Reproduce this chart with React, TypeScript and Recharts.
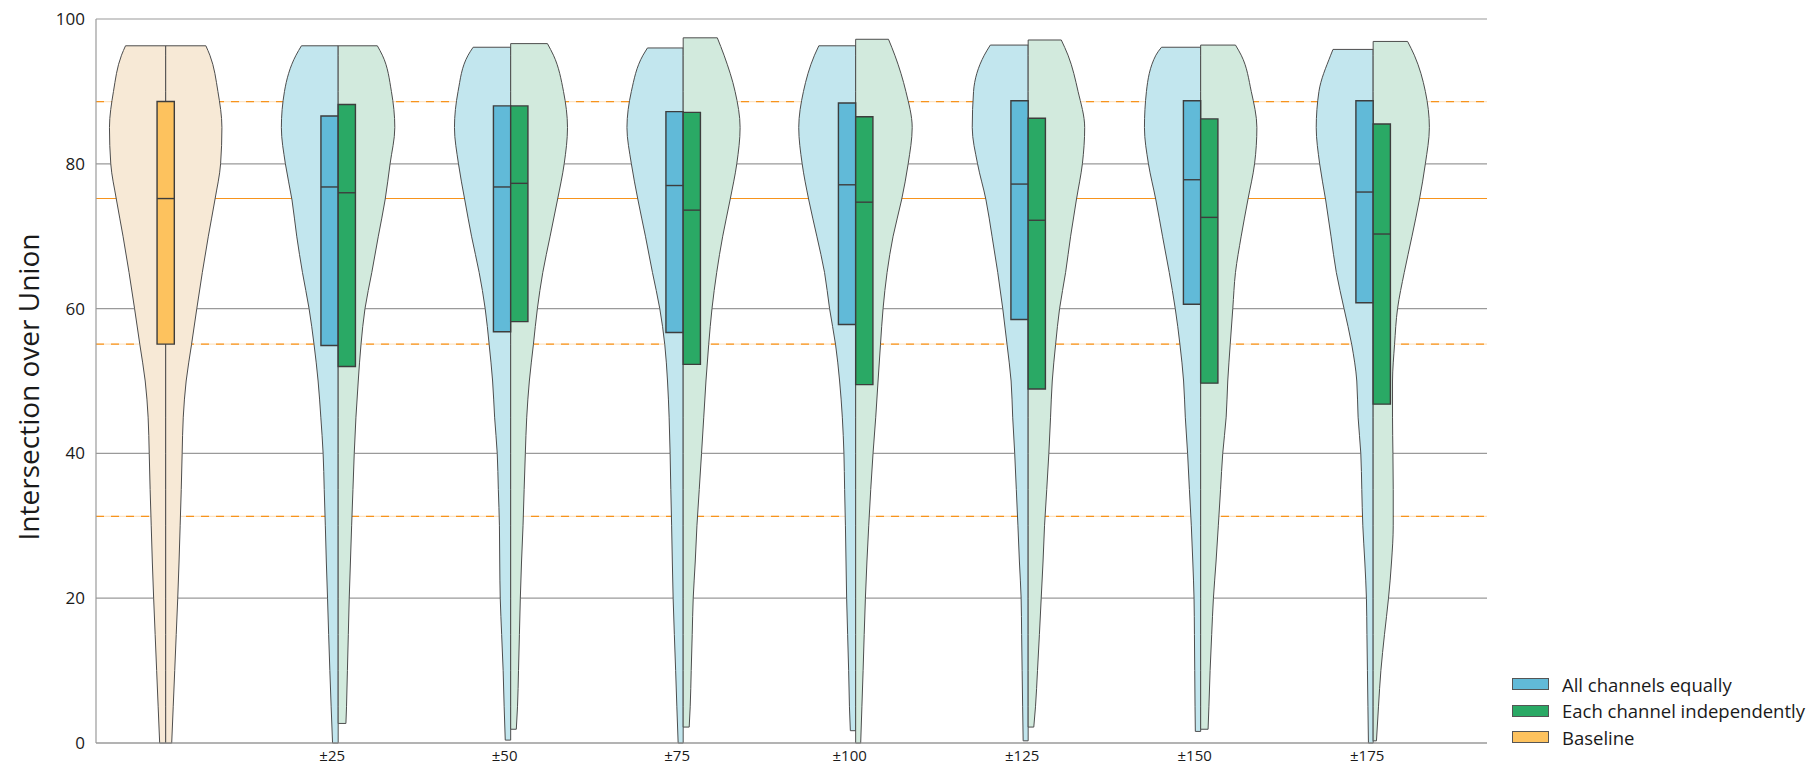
import React from 'react';
import { ComposedChart, Area, XAxis, YAxis, CartesianGrid, ReferenceLine, ReferenceArea, Legend } from 'recharts';

// density profiles are sampled at these IoU levels
const LEVELS = [0, 5, 10, 15, 20, 25, 30, 35, 40, 45, 50, 55, 60, 65, 70, 75, 80, 85, 90, 95];

const RANGES = ['±25', '±50', '±75', '±100', '±125', '±150', '±175'];

// baseline (symmetric violin)
const BASELINE_DENSITY = [6, 7.5, 9, 10.5, 12, 13.3, 14.4, 15.5, 16.4, 17.5, 20.4, 25.7, 31, 36.5, 42.5, 49, 54.7, 56, 52, 44];
const BASELINE_EXTENT = [0, 96.3];
const BASELINE_END_DENSITY = [6, 40];
const BASELINE_BOX = [55.1, 75.2, 88.6]; // q1, median, q3
const BASELINE_LOW = 31.3;

// "All channels equally"
const EQUAL_DENSITY = [
  [5.6, 7, 8.3, 9.5, 10.6, 11.8, 12.8, 13.9, 15, 17.3, 20, 24, 29, 35.6, 41.3, 46, 52.6, 56.6, 53.5, 42],
  [null, 6.5, 7.5, 9, 10.4, 10.9, 11.2, 12.3, 13.4, 16, 18, 21.4, 25.4, 31.4, 39, 45.7, 52, 56, 52.4, 42.4],
  [5, 6.3, 7.5, 8.8, 10, 10.8, 11.5, 12.3, 13, 14, 15.6, 18.3, 23.3, 30.6, 37.6, 45, 51.6, 56, 51.6, 40],
  [null, 6.2, 7, 8, 9, 9.6, 10.2, 11, 11.7, 13.3, 16, 20, 26, 31, 38.7, 46.7, 53.3, 56.7, 52, 41],
  [null, 5.5, 6, 6.5, 7, 8.7, 10.2, 11.8, 13.4, 15.4, 17, 21, 25.3, 30.3, 36, 42, 50.4, 55.7, 54.4, 43.7],
  [null, 5.6, 5.9, 6.2, 6.6, 7.8, 9.3, 11.2, 13, 15.3, 17, 20.6, 25.3, 31.3, 38, 44.6, 52, 56, 54, 44.6],
  [4.7, 5.2, 5.7, 6.2, 6.7, 8.3, 10.3, 11.3, 12.3, 15, 16.3, 21.3, 29, 36.7, 42, 47.3, 53.3, 56.7, 54, 42.3],
];
const EQUAL_EXTENT = [[0, 96.3], [0.4, 96.1], [0, 96.0], [1.7, 96.3], [0.3, 96.4], [1.6, 96.1], [0, 95.8]];
const EQUAL_END_DENSITY = [[5.6, 36.6], [5.4, 37.4], [5, 35.6], [5.3, 36.7], [5, 37.7], [5.3, 39], [4.7, 40]];
const EQUAL_Q1 = [54.9, 56.8, 56.7, 57.8, 58.5, 60.6, 60.8];
const EQUAL_MEDIAN = [76.8, 76.8, 77.0, 77.1, 77.2, 77.8, 76.1];
const EQUAL_Q3 = [86.6, 88.0, 87.2, 88.4, 88.7, 88.7, 88.7];

// "Each channel independently"
const INDEP_DENSITY = [
  [null, 8.3, 9.2, 10.1, 11, 12.2, 13.4, 14.7, 16, 17.7, 20, 22.7, 26.7, 33.5, 40, 46.7, 51.7, 56.4, 53, 44],
  [null, 6.8, 7.8, 8.7, 9.6, 10.8, 12.3, 13.4, 14.6, 16, 18.6, 22.6, 26.6, 32, 39.3, 46.6, 53.3, 56.6, 52.6, 42.6],
  [null, 7, 8, 9, 10, 12, 13.7, 16, 18.3, 20.5, 22.7, 25.4, 28.7, 33.4, 39.4, 46.7, 53.4, 56.7, 51.7, 40.7],
  [5, 6.2, 7.4, 8.5, 9.7, 11.2, 13, 15, 17.3, 20, 22.3, 24.7, 27.3, 31.3, 37.3, 45.7, 52.3, 56.3, 50, 39],
  [null, 7.3, 9.3, 11.2, 13, 14.8, 16.3, 18.5, 20.6, 22.3, 24, 27.3, 31.3, 37.3, 42.3, 48, 54, 56.3, 49.7, 39.7],
  [null, 8.2, 9.4, 11, 12.7, 15.3, 17.6, 19.8, 22, 25.4, 27, 29.4, 32, 34.7, 40.4, 47, 53.7, 56, 50.4, 40.4],
  [null, 5.3, 7.7, 11.3, 15.3, 18.3, 20, 20, 19.7, 19.3, 19.3, 21.3, 24.3, 31, 38.7, 46, 52, 56, 52, 41],
];
const INDEP_EXTENT = [[2.7, 96.3], [1.9, 96.6], [2.2, 97.4], [0, 97.2], [2.2, 97.1], [1.9, 96.4], [0.3, 96.9]];
const INDEP_END_DENSITY = [[7.7, 39], [5.6, 36.6], [6, 34], [5, 32.7], [5.6, 33], [7.4, 34.7], [3.3, 34.3]];
const INDEP_Q1 = [52.0, 58.2, 52.3, 49.5, 48.9, 49.7, 46.8];
const INDEP_MEDIAN = [76.0, 77.3, 73.6, 74.7, 72.2, 72.6, 70.3];
const INDEP_Q3 = [88.2, 88.0, 87.1, 86.5, 86.3, 86.2, 85.5];

const LEGEND_LABELS = ['All channels equally', 'Each channel independently', 'Baseline'];

const BLUE_FILL = '#c2e6ee';
const BLUE_BOX = '#61bad8';
const GREEN_FILL = '#d2eadd';
const GREEN_BOX = '#2aa965';
const ORANGE_FILL = '#f7e9d6';
const ORANGE_BOX = '#fdc25e';
const OUTLINE = '#4d4d4d';
const BOX_STROKE = '#3d3d3d';
const GUIDE = '#f7941d';
const GUIDE_PALE = '#fde4c4';
const GRID = '#9a9a9a';
const FONT = '"Open Sans", Lato, sans-serif';

const VIOLIN_HALF = 0.33; // x units spanned by the widest half-violin
const BOX_W = 0.1;

type Half = {
  key: string;
  center: number;
  side: number;
  levels: (number | null)[];
  extent: number[];
  ends: number[];
  fill: string;
};

const halves: Half[] = [
  { key: 'base_l', center: 0, side: -1, levels: BASELINE_DENSITY, extent: BASELINE_EXTENT, ends: BASELINE_END_DENSITY, fill: ORANGE_FILL },
  { key: 'base_r', center: 0, side: 1, levels: BASELINE_DENSITY, extent: BASELINE_EXTENT, ends: BASELINE_END_DENSITY, fill: ORANGE_FILL },
  ...EQUAL_DENSITY.map((levels, i) => ({
    key: `eq_${i}`, center: i + 1, side: -1, levels, extent: EQUAL_EXTENT[i], ends: EQUAL_END_DENSITY[i], fill: BLUE_FILL,
  })),
  ...INDEP_DENSITY.map((levels, i) => ({
    key: `ind_${i}`, center: i + 1, side: 1, levels, extent: INDEP_EXTENT[i], ends: INDEP_END_DENSITY[i], fill: GREEN_FILL,
  })),
];

const densityAt = (h: Half, y: number) => {
  const [lo, hi] = h.extent;
  if (y < lo || y > hi) return null;
  if (y === lo) return h.ends[0];
  if (y === hi) return h.ends[1];
  const i = LEVELS.indexOf(y);
  return i >= 0 ? h.levels[i] : null;
};

const ys = Array.from(new Set([...LEVELS, ...halves.flatMap((h) => h.extent)])).sort((a, b) => a - b);
const rows = ys.map((y) => {
  const row: Record<string, number | null> = { y };
  halves.forEach((h) => { row[h.key] = densityAt(h, y); });
  return row;
});

const PEAK = Math.max(...halves.flatMap((h) => [...h.levels, ...h.ends].filter((v): v is number => v != null)));
const toWidth = (d: number) => (d / PEAK) * VIOLIN_HALF;

const halfValue = (h: Half) => (row: any) => {
  const d = row[h.key];
  if (d == null) return [null, null];
  const w = toWidth(d);
  return h.side < 0 ? [h.center - w, h.center] : [h.center, h.center + w];
};

const boxes = [
  { x1: -BOX_W / 2, x2: BOX_W / 2, q1: BASELINE_BOX[0], med: BASELINE_BOX[1], q3: BASELINE_BOX[2], fill: ORANGE_BOX },
  ...EQUAL_Q1.map((q1, i) => ({ x1: i + 1 - BOX_W, x2: i + 1, q1, med: EQUAL_MEDIAN[i], q3: EQUAL_Q3[i], fill: BLUE_BOX })),
  ...INDEP_Q1.map((q1, i) => ({ x1: i + 1, x2: i + 1 + BOX_W, q1, med: INDEP_MEDIAN[i], q3: INDEP_Q3[i], fill: GREEN_BOX })),
];

const YTitle = (props: any) => {
  const vb = props.viewBox || { x: 0, y: 19, width: 96, height: 724 };
  const cx = vb.x + 28;
  const cy = vb.y + vb.height / 2 + 6;
  return (
    <text x={cx} y={cy} transform={`rotate(-90, ${cx}, ${cy})`} textAnchor="middle" dominantBaseline="central"
      fontFamily={FONT} fontSize={28} fill="#1a1a1a">
      Intersection over Union
    </text>
  );
};

const LegendBox = () => (
  <div style={{ fontFamily: FONT, fontSize: 18.5, color: '#1a1a1a' }}>
    {LEGEND_LABELS.map((label, i) => (
      <div key={label} style={{ display: 'flex', alignItems: 'center', height: 26.5, whiteSpace: 'nowrap' }}>
        <span style={{ flex: 'none', width: 35, height: 10, background: [BLUE_BOX, GREEN_BOX, ORANGE_BOX][i], border: '1px solid #555', marginRight: 13 }} />
        {label}
      </div>
    ))}
  </div>
);

const App = () => (
  <div style={{ position: 'absolute', left: 0, top: 0, width: 1816, height: 767, background: '#fff', fontFamily: FONT }}>
    <ComposedChart layout="vertical" width={1816} height={767} data={rows} margin={{ top: 19, right: 329, bottom: 0, left: 0 }}>
      <CartesianGrid vertical={false} stroke={GRID} strokeWidth={1.2} />

      {/* baseline quartile guides */}
      {[BASELINE_BOX[2], BASELINE_BOX[0], BASELINE_LOW].map((v) => (
        <ReferenceLine key={`pale-${v}`} y={v} stroke={GUIDE_PALE} strokeWidth={1.2} zIndex={-70} />
      ))}
      {[BASELINE_BOX[2], BASELINE_BOX[0], BASELINE_LOW].map((v) => (
        <ReferenceLine key={`dash-${v}`} y={v} stroke={GUIDE} strokeWidth={1.3} strokeDasharray="8 7" zIndex={-60} />
      ))}
      <ReferenceLine y={BASELINE_BOX[1]} stroke={GUIDE} strokeWidth={1.1} zIndex={-60} />

      {halves.map((h) => (
        <Area
          key={h.key}
          dataKey={halfValue(h)}
          type="monotone"
          fill={h.fill}
          fillOpacity={1}
          stroke={OUTLINE}
          strokeWidth={1}
          connectNulls
          dot={false}
          activeDot={false}
          legendType="none"
          isAnimationActive={false}
          zIndex={100}
        />
      ))}

      {/* flat caps where each violin is cut at its min / max */}
      {halves.flatMap((h) => h.extent.map((y, j) => (
        <ReferenceLine
          key={`cap-${h.key}-${j}`}
          segment={[{ x: h.center + h.side * toWidth(h.ends[j]), y }, { x: h.center, y }]}
          stroke={OUTLINE}
          strokeWidth={1}
          zIndex={150}
        />
      )))}

      {boxes.map((b, i) => (
        <ReferenceArea key={`box-${i}`} x1={b.x1} x2={b.x2} y1={b.q1} y2={b.q3} fill={b.fill} fillOpacity={1}
          stroke={BOX_STROKE} strokeWidth={1.4} zIndex={200} />
      ))}
      {boxes.map((b, i) => (
        <ReferenceLine key={`med-${i}`} segment={[{ x: b.x1, y: b.med }, { x: b.x2, y: b.med }]}
          stroke={BOX_STROKE} strokeWidth={1.4} zIndex={250} />
      ))}

      <XAxis
        type="number"
        domain={[-0.404, 7.66]}
        allowDataOverflow
        ticks={[1, 2, 3, 4, 5, 6, 7]}
        interval={0}
        tickFormatter={(v: number) => RANGES[v - 1]}
        tick={{ fontSize: 15, fill: '#1a1a1a', fontFamily: FONT, dx: -6 }}
        tickLine={false}
        tickSize={0}
        tickMargin={7}
        axisLine={{ stroke: GRID, strokeWidth: 1.2 }}
        height={24}
      />
      <YAxis
        type="number"
        dataKey="y"
        reversed
        domain={[0, 100]}
        allowDataOverflow
        ticks={[0, 20, 40, 60, 80, 100]}
        interval={0}
        tick={{ fontSize: 17, fill: '#1a1a1a', fontFamily: FONT }}
        tickLine={false}
        tickSize={0}
        tickMargin={11}
        axisLine={{ stroke: GRID, strokeWidth: 1.2 }}
        width={96}
        label={<YTitle />}
      />
      <Legend
        layout="horizontal"
        align="center"
        verticalAlign="middle"
        wrapperStyle={{ left: 1512, top: 671, width: 304 }}
        content={() => <LegendBox />}
      />
    </ComposedChart>
  </div>
);

export default App;
